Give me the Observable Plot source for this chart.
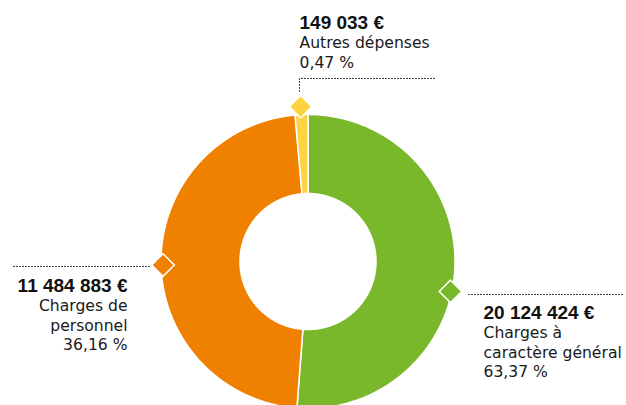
<!DOCTYPE html>
<html><head><meta charset="utf-8">
<script src="https://cdn.jsdelivr.net/npm/d3@7"></script>
<script src="https://cdn.jsdelivr.net/npm/@observablehq/plot@0.6"></script>
<style>body{margin:0;background:#fff}</style>
</head><body><div id="chart"></div>
<script>
// ---- data ----
const categories = ["Charges à caractère général", "Charges de personnel", "Autres dépenses"];
const amounts = [20124424, 11484883, 149033];
const percents = [63.37, 36.16, 0.47];
// share of the ring each slice occupies as drawn in the reference (the picture is not to scale)
const drawnShares = [51.2, 47.4, 1.4];
const labelLines = [["Charges à", "caractère général"], ["Charges de", "personnel"], ["Autres dépenses"]];
const colors = ["#7ab82b", "#f08000", "#fed33f"];

// ---- layout ----
const W = 626, H = 405;
const cx = 308, cy = 261.5, rOuter = 147, rInner = 68;
const markerAngleDeg = [101.7, 268.8, 357.1];
const markerRadius = [145, 145.5, 155.5];
const labels = [
  {x: 483, yBold: 318, anchor: "start", leader: [[468, 294], [623, 294]]},
  {x: 127, yBold: 291, anchor: "end", leader: [[13, 266], [150, 266]]},
  {x: 299, yBold: 28, anchor: "start", leader: [[299, 91], [299, 78], [435, 78]]}
];
const lineStep = 19.6;

const fr = d3.formatLocale({decimal: ",", thousands: " ", grouping: [3], currency: ["", " €"]});
const fmtAmount = v => fr.format(",")(v) + " €";
const fmtPct = v => fr.format(".2f")(v) + " %";

const pie = d3.pie().sort(null).value(d => d.share)(categories.map((c, i) => ({cat: c, share: drawnShares[i]})));
const ringPts = [];
for (const p of pie) {
  const span = p.endAngle - p.startAngle;
  const n = Math.max(2, Math.ceil(span / (Math.PI / 360)));
  for (let k = 0; k <= n; k++) {
    const a = p.startAngle + span * k / n;
    ringPts.push({
      cat: p.data.cat,
      xo: cx + rOuter * Math.sin(a), yo: cy - rOuter * Math.cos(a),
      xi: cx + rInner * Math.sin(a), yi: cy - rInner * Math.cos(a)
    });
  }
}
const markers = categories.map((c, i) => {
  const a = markerAngleDeg[i] * Math.PI / 180;
  return {cat: c, x: cx + markerRadius[i] * Math.sin(a), y: cy - markerRadius[i] * Math.cos(a)};
});

const marks = [
  Plot.area(ringPts, {x1: "xo", y1: "yo", x2: "xi", y2: "yi", z: "cat", fill: "cat", stroke: "white", strokeWidth: 1.5})
];
categories.forEach((c, i) => {
  const L = labels[i];
  marks.push(Plot.line(L.leader, {x: d => d[0], y: d => d[1], stroke: "#333", strokeWidth: 1, strokeDasharray: "1 2"}));
  marks.push(Plot.text([fmtAmount(amounts[i])], {
    x: L.x, y: L.yBold, text: d => d, textAnchor: L.anchor, lineAnchor: "bottom",
    fontFamily: "'Liberation Sans', Arial, sans-serif", fontSize: 19, fontWeight: 700, fill: "#111"
  }));
  const lines = [...labelLines[i], fmtPct(percents[i])].map((t, k) => ({t, y: L.yBold + lineStep * (k + 1)}));
  marks.push(Plot.text(lines, {
    x: L.x, y: "y", text: "t", textAnchor: L.anchor, lineAnchor: "bottom",
    fontFamily: "'DejaVu Sans', sans-serif", fontSize: 15.6, fill: "#1a1a1a"
  }));
});
marks.push(Plot.dot(markers, {x: "x", y: "y", fill: "cat", symbol: "square", r: 9, rotate: 45, stroke: "white", strokeWidth: 1.5}));

const chart = Plot.plot({
  width: W, height: H, margin: 0,
  x: {domain: [0, W], range: [0, W], axis: null},
  y: {domain: [0, H], range: [0, H], axis: null},
  color: {domain: categories, range: colors},
  style: {fontFamily: "'DejaVu Sans', sans-serif", background: "#fff"},
  marks
});
document.getElementById("chart").appendChild(chart);
</script>
</body></html>
